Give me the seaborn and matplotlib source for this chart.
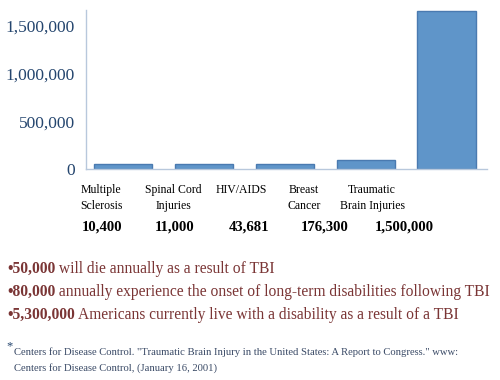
import matplotlib
matplotlib.use("Agg")
import pandas as pd
import matplotlib.pyplot as plt
import seaborn as sns

# bar heights as drawn in the picture, and the counts printed under each bar
conditions = ["Multiple Sclerosis", "Spinal Cord Injuries", "HIV/AIDS",
              "Breast Cancer", "Traumatic Brain Injuries"]
bar_heights = [50000, 50000, 50000, 100000, 1650000]
cat_labels = ["Multiple\nSclerosis", "Spinal Cord\nInjuries", "HIV/AIDS",
              "Breast\nCancer", "Traumatic\nBrain Injuries"]
count_labels = ["10,400", "11,000", "43,681", "176,300", "1,500,000"]
y_ticks = [0, 500000, 1000000, 1500000]

bullet_bold = ["\u202250,000", "\u202280,000", "\u20225,300,000"]
bullet_rest = [" will die annually as a result of TBI",
               " annually experience the onset of long-term disabilities following TBI",
               " Americans currently live with a disability as a result of a TBI"]
footnote = ('Centers for Disease Control. "Traumatic Brain Injury in the United States: '
            'A Report to Congress." www:\nCenters for Disease Control, (January 16, 2001)')

df = pd.DataFrame({"condition": conditions, "value": bar_heights})

sns.set_style("white")
plt.rcParams["font.family"] = ["Liberation Serif", "DejaVu Serif"]

BLUE_TXT = "#24456e"
RED_TXT = "#7a3535"

fig = plt.figure(figsize=(5, 3.8), dpi=100)
ax = fig.add_axes([0.172, 0.555, 0.802, 0.418])

sns.barplot(data=df, x="condition", y="value", color="#5f95c9",
            edgecolor="#4a7ab0", linewidth=1, width=0.72, saturation=1, ax=ax)

ax.set_ylim(0, 1656000)
ax.set_xlim(-0.46, 4.5)
ax.set_yticks(y_ticks)
ax.set_yticklabels([f"{v:,}" for v in y_ticks], fontsize=12.5, color=BLUE_TXT)
ax.set_xticks([])
ax.set_xlabel("")
ax.set_ylabel("")
ax.tick_params(axis="y", length=0, pad=8)
for side in ["top", "right"]:
    ax.spines[side].set_visible(False)
for side in ["left", "bottom"]:
    ax.spines[side].set_color("#b8c8dc")
    ax.spines[side].set_linewidth(1)

# category names and counts under the bars (fig coords)
label_x = [0.202, 0.346, 0.482, 0.608, 0.744]
count_x = [0.204, 0.350, 0.498, 0.650, 0.808]
for lx, cx, lab, cnt in zip(label_x, count_x, cat_labels, count_labels):
    fig.text(lx, 1 - 184 / 380, lab, ha="center", va="top", fontsize=8.5,
             linespacing=1.45, color="black")
    fig.text(cx, 1 - 227 / 380, cnt, ha="center", va="center", fontsize=10.6,
             fontweight="bold", color="black")

# bullet lines
for i, (b, r) in enumerate(zip(bullet_bold, bullet_rest)):
    yy = 1 - (269 + 23 * i) / 380
    t = fig.text(0.014, yy, b, ha="left", va="center", fontsize=11.2,
                 fontweight="bold", color=RED_TXT)
    ax.annotate(r, xy=(1, 0), xycoords=t, ha="left", va="bottom",
                fontsize=11.2, color=RED_TXT, annotation_clip=False)

# footnote
fig.text(0.012, 1 - 346 / 380, "*", ha="left", va="center", fontsize=9, color=BLUE_TXT)
fig.text(0.028, 1 - 360 / 380, footnote, ha="left", va="center", fontsize=7.7,
         linespacing=1.75, color="#3a4a66")

fig.savefig("out.png", dpi=100)
